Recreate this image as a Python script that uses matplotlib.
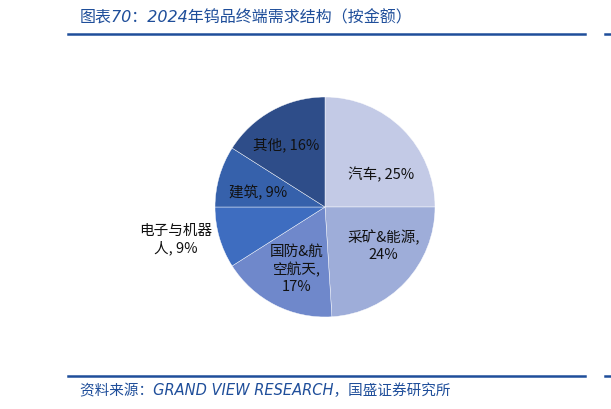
import matplotlib.pyplot as plt
from matplotlib.lines import Line2D

plt.rcParams['font.family'] = ['Noto Sans CJK SC', 'DejaVu Sans']

# 2024 tungsten end-use demand by value
labels = ['汽车', '采矿&能源', '国防&航空航天', '电子与机器人', '建筑', '其他']
shares = [25, 24, 17, 9, 9, 16]
label_text = ['汽车, 25%', '采矿&能源,\n24%', '国防&航\n空航天,\n17%', '电子与机器\n人, 9%', '建筑, 9%', '其他, 16%']
colors = ['#C3CAE6', '#9EADD9', '#6F88CB', '#3E6DC0', '#3661AB', '#2E4D89']

# label positions in pie units (radius = 1)
label_pos = [(0.51, 0.30), (0.53, -0.34), (-0.26, -0.56), (-1.36, -0.29), (-0.61, 0.14), (-0.35, 0.57)]

W, H = 611, 410
fig = plt.figure(figsize=(W / 100, H / 100), dpi=100)

# pie axes: centre at (325, 202) px from bottom-left, radius 110 px
r_px, span = 110, 1.2
cx, cy = 325, 202
ax = fig.add_axes([(cx - r_px * span) / W, (cy - r_px * span) / H,
                   2 * r_px * span / W, 2 * r_px * span / H])
ax.pie(shares, colors=colors, startangle=90, counterclock=False, radius=1,
       wedgeprops=dict(edgecolor='white', linewidth=0.3))
ax.set_xlim(-span, span)
ax.set_ylim(-span, span)
ax.set_aspect('equal')
ax.axis('off')

for txt, (x, y) in zip(label_text, label_pos):
    ax.text(x, y, txt, ha='center', va='center', fontsize=10.5, color='#111111',
            linespacing=1.25, clip_on=False)

blue = '#1F4E9A'
mixed = ['DejaVu Sans', 'Noto Sans CJK SC']
fig.text(80 / W, 1 - 18 / H, '图表70：2024年钨品终端需求结构（按金额）', fontsize=11.5,
         color=blue, ha='left', va='center', style='italic', family=mixed)
fig.add_artist(Line2D([68 / W, 585 / W], [1 - 35 / H] * 2, color=blue, lw=1.8))
fig.add_artist(Line2D([605 / W, 1.0], [1 - 35 / H] * 2, color=blue, lw=1.8))

fig.add_artist(Line2D([68 / W, 585 / W], [1 - 377 / H] * 2, color=blue, lw=1.8))
fig.add_artist(Line2D([605 / W, 1.0], [1 - 377 / H] * 2, color=blue, lw=1.8))
fig.text(80 / W, 1 - 391 / H, '资料来源：GRAND VIEW RESEARCH，国盛证券研究所', fontsize=10.5,
         color=blue, ha='left', va='center', style='italic', family=mixed)

fig.savefig('out.png', dpi=100, facecolor='white')
